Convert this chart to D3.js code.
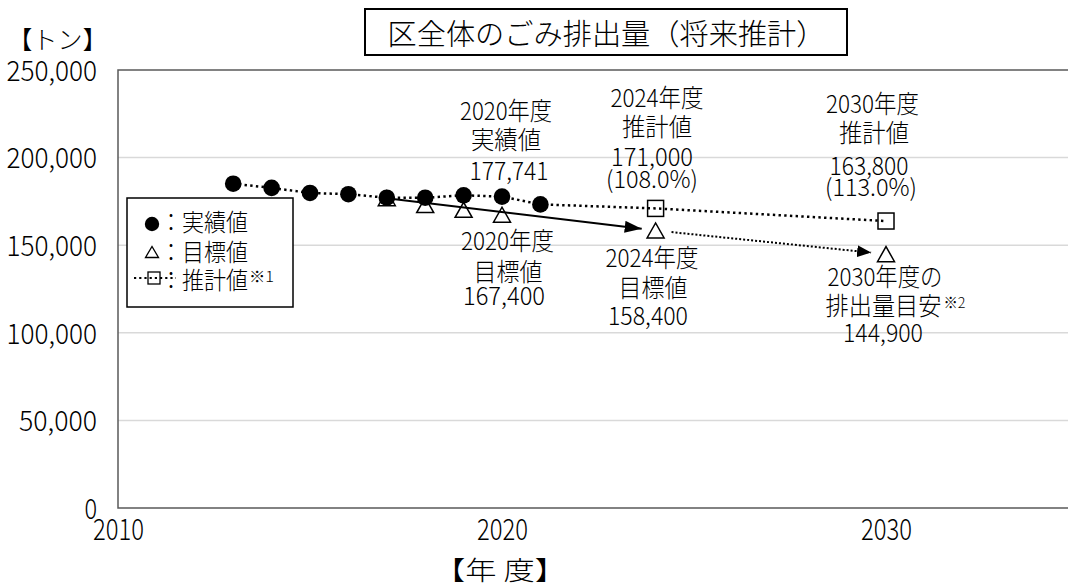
<!DOCTYPE html>
<html><head><meta charset="utf-8">
<script src="https://cdn.jsdelivr.net/npm/d3@7"></script>
<style>
body{margin:0;background:#fff}
svg{display:block}
text{font-family:"Noto Sans CJK JP","Noto Sans",sans-serif;font-weight:300;fill:#000}
</style>
</head><body>
<svg id="c" width="1068" height="587"></svg>
<script>
// ---- data ----
const actualYears = [2013, 2014, 2015, 2016, 2017, 2018, 2019, 2020, 2021];
const actualValues = [185100, 182700, 179800, 179100, 177100, 177100, 178500, 177741, 173300];
const targetYears = [2017, 2018, 2019, 2020, 2024, 2030];
const targetValues = [176800, 172900, 170200, 167400, 158400, 144900];
const estimateYears = [2024, 2030];
const estimateValues = [171000, 163800];
const yTicks = [0, 50000, 100000, 150000, 200000, 250000];
const xTicks = [2010, 2020, 2030];
const titleText = "区全体のごみ排出量（将来推計）";
const yLabelText = "【トン】";
const xLabelText = "【年 度】";
const legendLabels = ["：実績値", "：目標値", "：推計値"];

// ---- setup ----
const svg = d3.select("#c");
svg.append("rect").attr("width", 1068).attr("height", 587).attr("fill", "#fff");
const x = d3.scaleLinear().domain([2010, 2035]).range([118, 1078]);
const y = d3.scaleLinear().domain([0, 250000]).range([508, 70]);
const fmt = d3.format(",");
const pct = d3.format(".1%");

function txt(g, str, cx, cy, size, w, anchor = "middle") {
  const t = g.append("text").attr("font-size", size).text(str);
  const x0 = anchor === "middle" ? cx - w / 2 : anchor === "end" ? cx - w : cx;
  t.attr("x", x0).attr("y", cy + 0.37 * size)
   .attr("textLength", w).attr("lengthAdjust", "spacingAndGlyphs");
  return t;
}
function numWidth(s, dw, cw) {
  let w = 0;
  for (const ch of s) w += (ch === ",") ? cw : dw;
  return w;
}

// ---- grid ----
svg.append("g").selectAll("line")
  .data(yTicks.filter(d => d > 0 && d < 250000))
  .join("line")
  .attr("x1", x(2010)).attr("x2", x(2035))
  .attr("y1", d => y(d)).attr("y2", d => y(d))
  .attr("stroke", "#d9d9d9").attr("stroke-width", 1.5);

// frame
svg.append("rect")
  .attr("x", x(2010)).attr("y", y(250000))
  .attr("width", x(2035) - x(2010)).attr("height", y(0) - y(250000))
  .attr("fill", "none").attr("stroke", "#595959").attr("stroke-width", 1.5);

// ---- axes ----
const yAxis = svg.append("g").attr("transform", `translate(${x(2010)},0)`)
  .call(d3.axisLeft(y).tickValues(yTicks).tickSize(0).tickPadding(21).tickFormat(fmt));
yAxis.select(".domain").remove();
yAxis.selectAll("text").each(function () {
  const t = d3.select(this);
  const s = t.text();
  const w = numWidth(s, 12.6, 15);
  t.attr("font-size", 28).attr("text-anchor", "start")
   .attr("x", -21 - w).attr("dy", null).attr("y", 0.37 * 28)
   .attr("textLength", w).attr("lengthAdjust", "spacingAndGlyphs").attr("fill", "#000");
});
yAxis.attr("font-family", null).attr("font-size", null);

const xAxis = svg.append("g").attr("transform", `translate(0,${y(0)})`)
  .call(d3.axisBottom(x).tickValues(xTicks).tickSize(0).tickFormat(d3.format("d")));
xAxis.select(".domain").remove();
xAxis.selectAll("text").each(function () {
  const t = d3.select(this);
  const w = 51;
  t.attr("font-size", 29).attr("text-anchor", "start")
   .attr("x", -w / 2).attr("dy", null).attr("y", 21 + 0.37 * 29)
   .attr("textLength", w).attr("lengthAdjust", "spacingAndGlyphs").attr("fill", "#000");
});
xAxis.attr("font-family", null).attr("font-size", null);

// axis titles
svg.append("text").attr("x", 57.5).attr("y", 40 + 0.37 * 25).attr("font-size", 25)
  .attr("text-anchor", "middle").text(yLabelText);
txt(svg, xLabelText, 500, 570, 26, 132);

// ---- series ----
const actualPts = actualYears.map((d, i) => [d, actualValues[i]]);
const estPts = actualPts.concat(estimateYears.map((d, i) => [d, estimateValues[i]]));
const line = d3.line().x(d => x(d[0])).y(d => y(d[1]));

svg.append("path").attr("d", line(estPts)).attr("fill", "none")
  .attr("stroke", "#000").attr("stroke-width", 2.5).attr("stroke-dasharray", "2.4,3.3");

// arrow markers
const defs = svg.append("defs");
defs.append("marker").attr("id", "ah1").attr("markerUnits", "userSpaceOnUse")
  .attr("viewBox", "0 0 17 12").attr("refX", 17).attr("refY", 6)
  .attr("markerWidth", 17).attr("markerHeight", 12).attr("orient", "auto")
  .append("path").attr("d", "M0,0L17,6L0,12Z").attr("fill", "#000");
defs.append("marker").attr("id", "ah2").attr("markerUnits", "userSpaceOnUse")
  .attr("viewBox", "0 0 14 12").attr("refX", 14).attr("refY", 6)
  .attr("markerWidth", 14).attr("markerHeight", 12).attr("orient", "auto")
  .append("path").attr("d", "M0,0L14,6L0,12Z").attr("fill", "#000");

function seg(y0, v0, y1, v1, trimStart, trimEnd) {
  const ax = x(y0), ay = y(v0), bx = x(y1), by = y(v1);
  const L = Math.hypot(bx - ax, by - ay), ux = (bx - ax) / L, uy = (by - ay) / L;
  return [ax + ux * trimStart, ay + uy * trimStart, bx - ux * trimEnd, by - uy * trimEnd];
}
const tIdx = y => targetYears.indexOf(y);
const s1 = seg(2017, targetValues[tIdx(2017)], 2024, targetValues[tIdx(2024)], 4, 14);
svg.append("line").attr("x1", s1[0]).attr("y1", s1[1]).attr("x2", s1[2]).attr("y2", s1[3])
  .attr("stroke", "#000").attr("stroke-width", 2).attr("marker-end", "url(#ah1)");
const s2 = seg(2024, targetValues[tIdx(2024)], 2030, targetValues[tIdx(2030)], 16, 15);
svg.append("line").attr("x1", s2[0]).attr("y1", s2[1]).attr("x2", s2[2]).attr("y2", s2[3])
  .attr("stroke", "#000").attr("stroke-width", 2).attr("stroke-dasharray", "2,2")
  .attr("marker-end", "url(#ah2)");

// triangles (targets)
function triPath(cx, cy, w, h) {
  return `M${cx - w / 2},${cy + h / 2}L${cx + w / 2},${cy + h / 2}L${cx},${cy - h / 2}Z`;
}
svg.append("g").selectAll("path").data(targetYears.map((d, i) => [d, targetValues[i]]))
  .join("path").attr("d", d => triPath(x(d[0]), y(d[1]), 17, 15))
  .attr("fill", "none").attr("stroke", "#000").attr("stroke-width", 1.5);

// squares (estimates)
svg.append("g").selectAll("rect").data(estimateYears.map((d, i) => [d, estimateValues[i]]))
  .join("rect").attr("x", d => x(d[0]) - 8).attr("y", d => y(d[1]) - 8)
  .attr("width", 16).attr("height", 16)
  .attr("fill", "none").attr("stroke", "#000").attr("stroke-width", 1.5);

// circles (actual)
svg.append("g").selectAll("circle").data(actualPts).join("circle")
  .attr("cx", d => x(d[0])).attr("cy", d => y(d[1])).attr("r", 8.3).attr("fill", "#000");

// ---- annotations ----
const ann = svg.append("g");
const a2020 = actualValues[actualYears.indexOf(2020)];
txt(ann, "2020年度", 506, 111, 25, 92);
txt(ann, "実績値", 506, 140, 25, 70);
txt(ann, fmt(a2020), 509, 171, 25, 79);

const e2024 = estimateValues[0], e2030 = estimateValues[1];
const t2024 = targetValues[tIdx(2024)], t2030 = targetValues[tIdx(2030)], t2020 = targetValues[tIdx(2020)];
txt(ann, "2024年度", 657, 98, 25, 93);
txt(ann, "推計値", 657, 127, 25, 70);
txt(ann, fmt(e2024), 652, 157, 25, 82);
txt(ann, "(" + pct(e2024 / t2024) + ")", 652, 179.5, 24, 92);

txt(ann, "2030年度", 872.5, 104, 25, 93);
txt(ann, "推計値", 874, 133, 25, 70);
txt(ann, fmt(e2030), 869, 165.5, 25, 79);
txt(ann, "(" + pct(e2030 / t2030) + ")", 871, 187.5, 24, 92);

txt(ann, "2020年度", 507.5, 241, 25, 93);
txt(ann, "目標値", 508, 271.7, 25, 69);
txt(ann, fmt(t2020), 504, 296, 25, 82);

txt(ann, "2024年度", 652, 257.5, 25, 93);
txt(ann, "目標値", 653, 287.5, 25, 69);
txt(ann, fmt(t2024), 648, 316, 25, 80);

txt(ann, "2030年度の", 885, 277, 25, 115);
txt(ann, "排出量目安", 825.5, 306, 25, 116, "start");
txt(ann, "※2", 943.5, 302, 15, 22, "start");
txt(ann, fmt(t2030), 883, 332.5, 25, 80);

// ---- legend ----
const lg = svg.append("g");
lg.append("rect").attr("x", 127).attr("y", 198).attr("width", 166).attr("height", 109)
  .attr("fill", "#fff").attr("stroke", "#000").attr("stroke-width", 1.5);
lg.append("circle").attr("cx", 152).attr("cy", 224).attr("r", 7.2).attr("fill", "#000");
lg.append("path").attr("d", triPath(152, 252, 13, 11)).attr("fill", "none")
  .attr("stroke", "#000").attr("stroke-width", 1.3);
lg.append("line").attr("x1", 134).attr("x2", 176).attr("y1", 278).attr("y2", 278)
  .attr("stroke", "#000").attr("stroke-width", 2.2).attr("stroke-dasharray", "2.2,3");
lg.append("rect").attr("x", 148).attr("y", 272).attr("width", 12).attr("height", 12)
  .attr("fill", "none").attr("stroke", "#000").attr("stroke-width", 1.3);
const rowsY = [222, 251.7, 280.5];
legendLabels.forEach((s, i) => txt(lg, s, 160, rowsY[i], 24, 88, "start"));
txt(lg, "※1", 249, 276, 15, 25, "start");

// ---- title ----
svg.append("rect").attr("x", 365).attr("y", 9).attr("width", 482).attr("height", 46)
  .attr("fill", "#fff").attr("stroke", "#000").attr("stroke-width", 2);
txt(svg, titleText, 606.5, 34, 29, 438);
</script>
</body></html>
